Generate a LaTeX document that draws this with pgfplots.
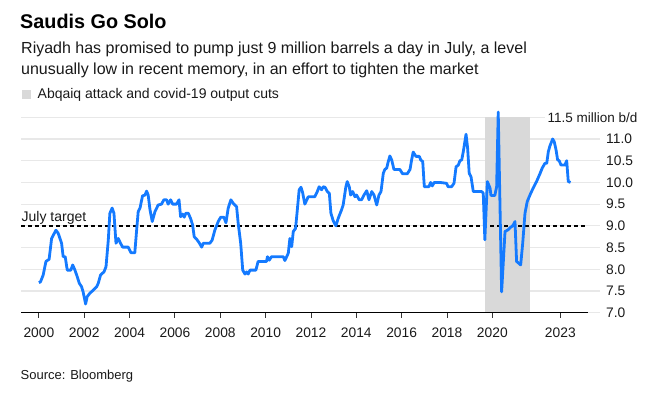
\documentclass[border=0pt]{standalone}
\usepackage{pgfplots}
\pgfplotsset{compat=1.18}
\usepackage{fontspec}
\setmainfont{Liberation Sans}
\definecolor{bblue}{RGB}{20,122,255}
\definecolor{bandgray}{RGB}{217,217,217}
\definecolor{gridgray}{RGB}{232,232,232}
\definecolor{txt}{RGB}{25,25,25}
\begin{document}
\begin{tikzpicture}
\path[use as bounding box] (0bp,0bp) rectangle (652bp,397bp);
% titles
\node[anchor=base west, inner sep=0pt, font=\fontsize{19.8bp}{22bp}\selectfont\bfseries] at (20bp,368.5bp) {Saudis Go Solo};
\node[anchor=base west, inner sep=0pt, text=txt, font=\fontsize{16bp}{19bp}\selectfont] at (21bp,343.7bp) {Riyadh has promised to pump just 9 million barrels a day in July, a level};
\node[anchor=base west, inner sep=0pt, text=txt, font=\fontsize{16bp}{19bp}\selectfont] at (21bp,322.5bp) {unusually low in recent memory, in an effort to tighten the market};
\fill[bandgray] (22bp,298bp) rectangle (31bp,307bp);
\node[anchor=base west, inner sep=0pt, text=txt, font=\fontsize{14bp}{17bp}\selectfont] at (37.5bp,298.7bp) {Abqaiq attack and covid-19 output cuts};
\node[anchor=base west, inner sep=0pt, text=txt, font=\fontsize{13bp}{16bp}\selectfont] at (20.5bp,18bp) {Source: Bloomberg};
\node[anchor=base east, inner sep=0pt, text=txt, font=\fontsize{13.5bp}{16bp}\selectfont] at (637.5bp,274.7bp) {11.5 million b/d};
\begin{axis}[
  at={(21bp,84.3bp)}, anchor=south west,
  width=567bp, height=195.4bp, scale only axis,
  xmin=1999.21, xmax=2024.22, ymin=7, ymax=11.5,
  clip=false,
  axis x line*=bottom, axis y line*=right,
  axis line style={-},
  x axis line style={black, line width=0.9bp},
  y axis line style={draw=none},
  xtick={2000,2002,2004,2006,2008,2010,2012,2014,2016,2018,2020,2023},
  xticklabels={2000,2002,2004,2006,2008,2010,2012,2014,2016,2018,2020,2023},
  ytick={7,7.5,8,8.5,9,9.5,10,10.5,11},
  yticklabels={7.0,7.5,8.0,8.5,9.0,9.5,10.0,10.5,11.0},
  xtick style={black!80, line width=0.9bp},
  ytick style={draw=none},
  tick align=outside,
  major tick length=5bp,
  /pgf/number format/assume math mode=true,
  tick label style={text=txt, font=\fontsize{13.8bp}{16bp}\selectfont, inner sep=0pt},
  xticklabel style={anchor=base, yshift=-20.3bp},
  yticklabel style={anchor=west, xshift=13bp},
]
% grid lines
\pgfplotsinvokeforeach{7,7.5,8,8.5,9,9.5,10,10.5,11}{
  \draw[gridgray, line width=1.2bp] (axis cs:1999.21,#1) -- (axis cs:2024.75,#1);
}
\draw[gridgray, line width=1.2bp] (axis cs:1999.21,11.5) -- (axis cs:2022.32,11.5);
% band
\fill[bandgray] (axis cs:2019.67,7) rectangle (axis cs:2021.68,11.5);
\draw[black, line width=0.9bp] (axis cs:1999.21,7) -- (axis cs:2024.22,7);
% target
\draw[black, line width=1.3bp, dash pattern=on 4bp off 3bp] (axis cs:1999.21,9) -- (axis cs:2024.22,9);
\node[anchor=base west, inner sep=0pt, text=txt, font=\fontsize{14bp}{17bp}\selectfont] at (axis cs:1999.23,9.097) {July target};
\addplot[bblue, line width=2.8bp, line join=round, no markers] coordinates {
(2000.00,7.69) (2000.07,7.71) (2000.19,7.87) (2000.31,8.18) (2000.45,8.23) (2000.56,8.71)
(2000.75,8.90) (2000.85,8.83) (2001.00,8.60) (2001.07,8.29) (2001.16,8.29) (2001.25,7.98)
(2001.41,7.98) (2001.49,8.10) (2001.59,7.98) (2001.69,7.83) (2001.78,7.68) (2001.88,7.60)
(2001.95,7.48) (2002.06,7.20) (2002.13,7.37) (2002.25,7.45) (2002.40,7.52) (2002.55,7.60)
(2002.62,7.68) (2002.72,7.87) (2002.87,7.94) (2002.96,8.06) (2003.06,8.67) (2003.13,9.29)
(2003.23,9.41) (2003.31,9.29) (2003.40,8.60) (2003.50,8.71) (2003.60,8.60) (2003.69,8.51)
(2003.94,8.51) (2004.06,8.38) (2004.23,8.38) (2004.31,8.90) (2004.38,9.33) (2004.46,9.41)
(2004.57,9.69) (2004.68,9.71) (2004.75,9.80) (2004.82,9.71) (2004.90,9.37) (2005.00,9.10)
(2005.12,9.33) (2005.26,9.48) (2005.41,9.50) (2005.51,9.60) (2005.63,9.60) (2005.70,9.50)
(2005.81,9.60) (2005.90,9.50) (2006.07,9.50) (2006.18,9.60) (2006.25,9.21) (2006.34,9.27)
(2006.41,9.20) (2006.48,9.29) (2006.59,9.29) (2006.69,9.17) (2006.78,9.02) (2006.85,8.75)
(2006.96,8.69) (2007.07,8.61) (2007.18,8.51) (2007.25,8.60) (2007.54,8.60) (2007.64,8.67)
(2007.76,8.90) (2007.91,9.10) (2008.02,9.20) (2008.16,9.20) (2008.25,9.07) (2008.35,9.41)
(2008.47,9.60) (2008.57,9.52) (2008.72,9.44) (2008.79,9.06) (2008.90,8.60) (2008.99,7.98)
(2009.09,7.89) (2009.16,7.94) (2009.23,7.89) (2009.31,7.98) (2009.57,7.98) (2009.67,8.18)
(2010.04,8.18) (2010.08,8.29) (2010.16,8.21) (2010.26,8.29) (2010.78,8.29) (2010.85,8.20)
(2011.00,8.37) (2011.07,8.71) (2011.15,8.52) (2011.22,8.87) (2011.32,8.94) (2011.37,9.21)
(2011.48,9.83) (2011.56,9.89) (2011.63,9.77) (2011.73,9.50) (2011.88,9.67) (2012.17,9.67)
(2012.28,9.79) (2012.36,9.90) (2012.47,9.83) (2012.54,9.90) (2012.62,9.89) (2012.72,9.79)
(2012.81,9.75) (2012.88,9.29) (2012.98,9.12) (2013.10,9.00) (2013.20,9.17) (2013.35,9.37)
(2013.42,9.48) (2013.54,9.90) (2013.60,10.02) (2013.69,9.90) (2013.75,9.71) (2013.84,9.79)
(2013.94,9.67) (2014.01,9.71) (2014.13,9.60) (2014.23,9.60) (2014.34,9.71) (2014.46,9.81)
(2014.56,9.60) (2014.68,9.79) (2014.78,9.71) (2014.90,9.48) (2015.00,9.71) (2015.09,9.79)
(2015.19,10.21) (2015.26,10.30) (2015.34,10.33) (2015.41,10.48) (2015.48,10.61) (2015.56,10.52)
(2015.66,10.30) (2015.92,10.30) (2016.04,10.20) (2016.25,10.20) (2016.37,10.30) (2016.44,10.52)
(2016.51,10.70) (2016.63,10.60) (2016.78,10.60) (2016.84,10.52) (2016.93,10.48) (2017.00,9.90)
(2017.10,9.90) (2017.20,9.90) (2017.28,10.00) (2017.35,9.92) (2017.44,10.00) (2017.69,10.00)
(2017.98,9.98) (2018.05,9.90) (2018.20,9.90) (2018.31,9.98) (2018.40,10.36) (2018.50,10.40)
(2018.57,10.50) (2018.65,10.52) (2018.72,10.71) (2018.84,11.11) (2018.91,10.79) (2018.98,10.21)
(2019.06,10.13) (2019.16,9.79) (2019.53,9.79) (2019.60,9.75) (2019.67,8.68) (2019.78,10.02)
(2019.90,9.87) (2019.94,9.70) (2020.11,9.70) (2020.19,9.90) (2020.26,11.62) (2020.41,7.48)
(2020.56,8.87) (2020.70,8.91) (2020.81,8.97) (2020.90,9.00) (2021.00,9.10) (2021.07,8.18)
(2021.14,8.15) (2021.25,8.10) (2021.34,8.60) (2021.44,9.29) (2021.54,9.56) (2021.66,9.71)
(2021.80,9.87) (2021.95,10.02) (2022.10,10.20) (2022.20,10.33) (2022.32,10.44) (2022.40,10.44)
(2022.47,10.71) (2022.54,10.84) (2022.66,11.00) (2022.73,10.94) (2022.81,10.75) (2022.88,10.52)
(2022.95,10.50) (2023.03,10.40) (2023.20,10.40) (2023.28,10.50) (2023.35,10.02) (2023.45,10.00)
};
\end{axis}
\end{tikzpicture}
\end{document}
